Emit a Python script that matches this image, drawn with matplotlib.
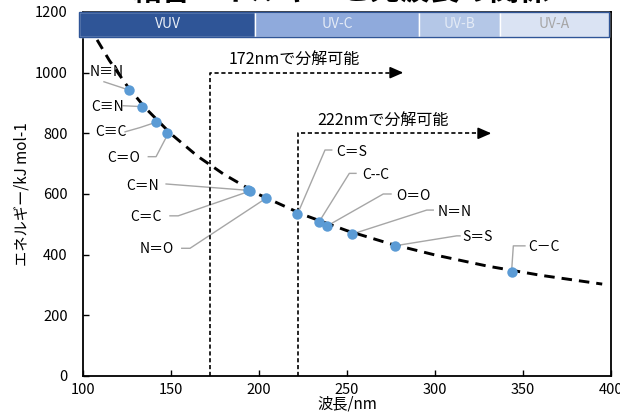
import matplotlib
matplotlib.use("Agg")
import matplotlib.pyplot as plt
from matplotlib.patches import Rectangle

plt.rcParams['font.family'] = ['Noto Sans CJK JP', 'DejaVu Sans']

# ---- data ----
bond_labels = ["N≡N", "C≡N", "C≡C", "C＝O", "C＝N", "C＝C", "N＝O",
               "C＝S", "C--C", "O＝O", "N＝N", "S＝S", "C－C"]
bond_wavelength = [126, 133.6, 141.7, 148, 194, 195, 204,
                   221.8, 234, 238.8, 253, 277, 343.5]
bond_energy = [943, 888, 837, 802, 612, 610, 586,
               533, 507, 495, 468, 429, 344]

# energy curve (read points along the dashed curve)
curve_wavelength = [108, 115, 125, 135, 150, 165, 180, 200, 225, 250, 275, 300, 330, 360, 395]
curve_energy = [1108, 1040, 957, 886, 798, 725, 665, 598, 532, 479, 435, 399, 362, 332, 303]

# UV bands
band_names = ["VUV", "UV-C", "UV-B", "UV-A"]
band_edges = [98, 198, 291, 337, 399]
band_colors = ["#2F5597", "#8FAADC", "#B4C7E7", "#DAE3F3"]
band_text_colors = ["#E9EEF7", "#E4EBF6", "#E4EBF6", "#A6A6A6"]

# decomposition thresholds
threshold_nm = [172, 222]
threshold_top = [1000, 800]
threshold_arrow_end = [282, 332]
threshold_text = ["172nmで分解可能", "222nmで分解可能"]

# ---- annotation layout (text anchor, leader vertices) ----
label_text_pos = [(104.0, 1003), (104.9, 888), (106.8, 803), (114.0, 718),
                  (124.8, 627), (127.1, 523), (132.4, 418),
                  (244.1, 738), (258.9, 663), (278.2, 593), (301.3, 540),
                  (315.7, 457), (353.0, 426)]
label_leader = [[(111.9, 970)], [(122.9, 891)], [(123.9, 805), (132.4, 819)],
                [(137.1, 723), (141.5, 723), (147.9, 794)],
                [(147.2, 633)], [(149.4, 528), (154.1, 528)], [(156.1, 421), (160.8, 421)],
                [(241.3, 745), (237.5, 745)], [(255.1, 668), (251.3, 668)],
                [(275.0, 600), (270.6, 600)], [(299.0, 547), (295.3, 547)],
                [(314.2, 462), (312.3, 462)], [(351.1, 429), (344.5, 429)]]

fig = plt.figure(figsize=(6.2, 4.18), dpi=100)
ax = fig.add_axes([0.1339, 0.1005, 0.8516, 0.8708])
ax.set_xlim(100, 400)
ax.set_ylim(0, 1200)
ax.set_xticks([100, 150, 200, 250, 300, 350, 400])
ax.set_yticks([0, 200, 400, 600, 800, 1000, 1200])
ax.tick_params(axis='both', direction='in', length=4, width=1, labelsize=10.5, colors='black')
ax.tick_params(axis='y', pad=11)
ax.tick_params(axis='x', pad=5)
for s in ax.spines.values():
    s.set_linewidth(1.3)
    s.set_color('black')

# leader lines
for (tx, ty), verts, px, py in zip(label_text_pos, label_leader, bond_wavelength, bond_energy):
    xs = [v[0] for v in verts] + [px]
    ys = [v[1] for v in verts] + [py]
    ax.plot(xs, ys, color='#A6A6A6', lw=1, zorder=2)

# curve
ax.plot(curve_wavelength, curve_energy, color='black', lw=2.1,
        linestyle=(0, (3.6, 2.4)), zorder=3)

# points
ax.plot(bond_wavelength, bond_energy, 'o', color='#5B9BD5', markersize=7.5,
        markeredgewidth=0, zorder=4)

for (tx, ty), lab in zip(label_text_pos, bond_labels):
    ax.text(tx, ty, lab, ha='left', va='center', fontsize=10, zorder=5)

# thresholds
for xn, yt, xe, txt in zip(threshold_nm, threshold_top, threshold_arrow_end, threshold_text):
    ax.plot([xn, xn, xe - 6], [0, yt, yt], color='black', lw=1.2,
            linestyle=(0, (2.5, 1.6)), zorder=2)
    ax.annotate('', xy=(xe, yt), xytext=(xe - 7, yt),
                arrowprops=dict(arrowstyle='-|>,head_length=0.8,head_width=0.35',
                                color='black', lw=1.2, shrinkA=0, shrinkB=0))
    ax.text(xn + 11, yt + 40, txt, ha='left', va='center', fontsize=11.5)

# bands
for i, name in enumerate(band_names):
    x0, x1 = band_edges[i], band_edges[i + 1]
    ax.add_patch(Rectangle((x0, 1118), x1 - x0, 82, facecolor=band_colors[i],
                           edgecolor='white', lw=1.0, clip_on=False, zorder=6))
    ax.text((x0 + x1) / 2, 1159, name, ha='center', va='center', fontsize=10,
            color=band_text_colors[i], zorder=7, clip_on=False)
ax.add_patch(Rectangle((band_edges[0], 1118), band_edges[-1] - band_edges[0], 82,
                       facecolor='none', edgecolor='#2F5597', lw=1.0, clip_on=False, zorder=8))

ax.set_xlabel('波長/nm', fontsize=11, labelpad=-1)
ax.set_ylabel('エネルギー/kJ mol-1', fontsize=11, labelpad=3)

fig.text(0.55, 1 - 1.0 / 418, '結合エネルギーと光波長の関係', ha='center', va='baseline',
         fontsize=21.5, fontweight='bold')

fig.savefig('out.png', dpi=100)
